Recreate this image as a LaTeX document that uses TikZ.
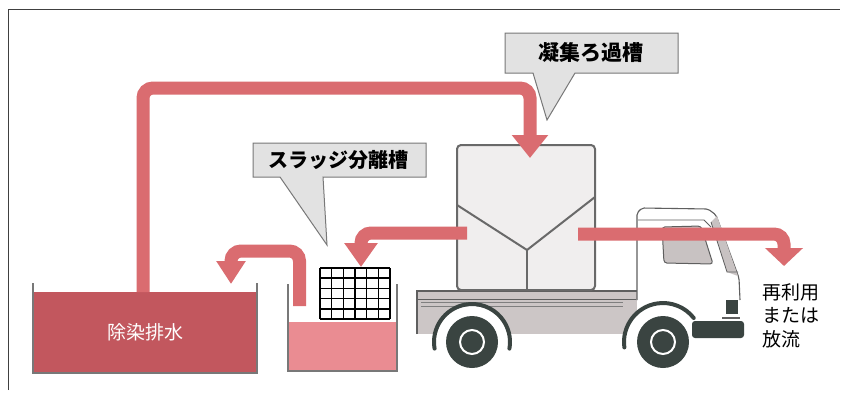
\documentclass[tikz,border=0pt]{standalone}
\usepackage{fontspec}
\newfontfamily\jp{Noto Sans CJK JP}
\usetikzlibrary{arrows.meta}

\definecolor{flow}{RGB}{218,108,112}
\definecolor{drainred}{RGB}{194,87,94}
\definecolor{sludgepink}{RGB}{234,140,146}
\definecolor{wallgray}{RGB}{120,120,120}
\definecolor{callfill}{RGB}{226,226,226}
\definecolor{calledge}{RGB}{120,120,120}
\definecolor{tankfill}{RGB}{240,238,238}
\definecolor{tankedge}{RGB}{105,105,105}
\definecolor{truckgray}{RGB}{204,198,198}
\definecolor{truckline}{RGB}{95,95,95}
\definecolor{tyre}{RGB}{58,68,65}
\definecolor{glass}{RGB}{200,194,194}

\tikzset{
  pipe/.style={draw=flow, line width=13pt, rounded corners=10pt},
  bighead/.tip={Triangle[width=35pt,length=23pt]},
  midhead/.tip={Triangle[width=32pt,length=24pt]},
  smallhead/.tip={Triangle[width=28pt,length=23pt]},
  outhead/.tip={Triangle[width=37pt,length=18pt]},
  callout/.style={fill=callfill, draw=calledge, line width=1pt},
  calltext/.style={font=\jp\bfseries\fontsize{20}{22}\selectfont, text=black},
  tankwall/.style={draw=wallgray, line width=1.6pt},
  liquid/.style={inner sep=0pt, outer sep=0pt},
  tyreshape/.style={fill=tyre},
  fender/.style={draw=tyre, line width=4pt, line cap=round},
  bodyline/.style={draw=truckline, line width=1.1pt},
  meshline/.style={draw=black, line width=1.6pt},
}

\begin{document}
\begin{tikzpicture}[x=1pt,y=-1pt]
\useasboundingbox[fill=white] (0,0) rectangle (842,394);

% frame
\draw[draw=black!75, line width=1pt] (8,390) -- (8,9) -- (840,9);

% ---------- drain tank ----------
\node[liquid, fill=drainred, minimum width=224pt, minimum height=81pt,
      font=\jp\fontsize{19}{21}\selectfont, text=white] (drain) at (145,332.5) {除染排水};
\draw[tankwall] (33,283) -- (33,373) -- (257,373) -- (257,283);

% ---------- sludge separation tank ----------
\node[liquid, fill=sludgepink, minimum width=109pt, minimum height=49pt] (sludge) at (342.5,346.5) {};
\draw[tankwall] (288,284) -- (288,371) -- (397,371) -- (397,284);
\node[liquid, fill=white, minimum width=70pt, minimum height=51pt] (screen) at (355,293.5) {};
\foreach \i in {0,...,6}
  \draw[meshline] (320+\i*11.667,268) -- ++(0,51);
\foreach \j in {0,...,5}
  \draw[meshline] (320,268+\j*10.2) -- ++(70,0);

% ---------- truck ----------
% bed and chassis
\fill[truckgray] (417,291) rectangle (638,334);
\draw[bodyline] (417,334) -- (417,291) -- (638,291);
\draw[bodyline, line width=0.8pt] (417,299) -- (636,299);
\draw[draw=truckline!80, line width=0.9pt] (421,302.5) -- (623,302.5);
\draw[draw=truckline!80, line width=0.9pt] (421,306) -- (623,306);
% cab body
\fill[white] (637,300) -- (637,213) -- (642,208) -- (708,209) -- (716,215)
  -- (739,278) -- (740,322) -- (637,322) -- cycle;
% wheel wells
\fill[white] (472,342) circle[radius=36];
\fill[white] (663,342) circle[radius=37];
% fenders
\draw[fender] (472,342) ++(170:38) arc[start angle=170, end angle=370, radius=38];
\draw[fender] (663,342) ++(172:39) arc[start angle=172, end angle=322, radius=39];
% bumper and grille
\fill[tyre, rounded corners=3pt] (692,321) rectangle (744,338);
\fill[tyre] (726,300) rectangle (738,314);
\draw[bodyline] (722,318) -- (740,318);
% wheels
\foreach \c/\n in {{(472,342)}/rear, {(663,342)}/front} {
  \node[circle, tyreshape, minimum size=52pt, inner sep=0pt] (wheel\n) at \c {};
  \draw[white, line width=2pt] \c circle[radius=12];
}
% cab outline
\draw[bodyline, rounded corners=2pt] (637,300) -- (637,213) -- (642,208) -- (708,209)
  -- (716,215) -- (739,278) -- (740,300);
\draw[bodyline, line width=0.8pt] (638,220) -- (704,220) -- (711,227);
% windscreen pillar
\fill[glass] (711,222) -- (717,216) -- (738,276) -- (727,272) -- cycle;
\draw[bodyline, line width=0.8pt] (711,222) -- (727,272) -- (738,272);
% side window
\filldraw[fill=glass, draw=truckline, line width=1pt, rounded corners=3pt]
  (662,227) -- (701,226) -- (713,264) -- (664,263) -- cycle;

% ---------- coagulation filter tank ----------
\node[draw=tankedge, fill=tankfill, line width=2pt, rounded corners=4pt,
      minimum width=138pt, minimum height=145pt, inner sep=0pt] (filt) at (526,217.5) {};
\coordinate (vbase) at (527,250);
\draw[draw=tankedge, line width=2pt] (457,205) -- (vbase) -- (595,197);
\draw[draw=tankedge, line width=2pt] (vbase) -- (527,290);

% ---------- flows ----------
\coordinate (top1) at (143,88);
\coordinate (top2) at (530,88);
\coordinate (filtin) at (530,158);
\draw[pipe, -bighead] ([xshift=-2pt]drain.north) -- (top1) -- (top2) -- (filtin);

\coordinate (lbend) at (361,233);
\coordinate (screenin) at (361,267);
\draw[pipe, -midhead] (467,233) -- (lbend) -- (screenin);

\coordinate (rbend1) at (299.5,251);
\coordinate (rbend2) at (231,251);
\coordinate (drainin) at (231,284);
\draw[pipe, -smallhead] (299.5,306) -- (rbend1) -- (rbend2) -- (drainin);

\coordinate (obend) at (784,234);
\coordinate (outlet) at (784,266);
\draw[pipe, -outhead] (578,234) -- (obend) -- (outlet);

% ---------- callouts ----------
\draw[callout] (505,33) -- (678,33) -- (678,73) -- (575,73) -- (547,120)
  -- (533,73) -- (505,73) -- cycle;
\node[calltext, font=\jp\bfseries\fontsize{21}{23}\selectfont] (lblfilt) at (591,53) {凝集ろ過槽};

\draw[callout] (253,143) -- (426,143) -- (426,177) -- (323,177) -- (327,245)
  -- (280,177) -- (253,177) -- cycle;
\node[calltext] (lblsludge) at (338,160) {スラッジ分離槽};

% destination label
\node[anchor=north west, inner sep=0pt, align=left, text=black,
      font=\jp\fontsize{19}{23.5}\selectfont] (dest) at (762,283) {再利用\\または\\放流};
\end{tikzpicture}
\end{document}
